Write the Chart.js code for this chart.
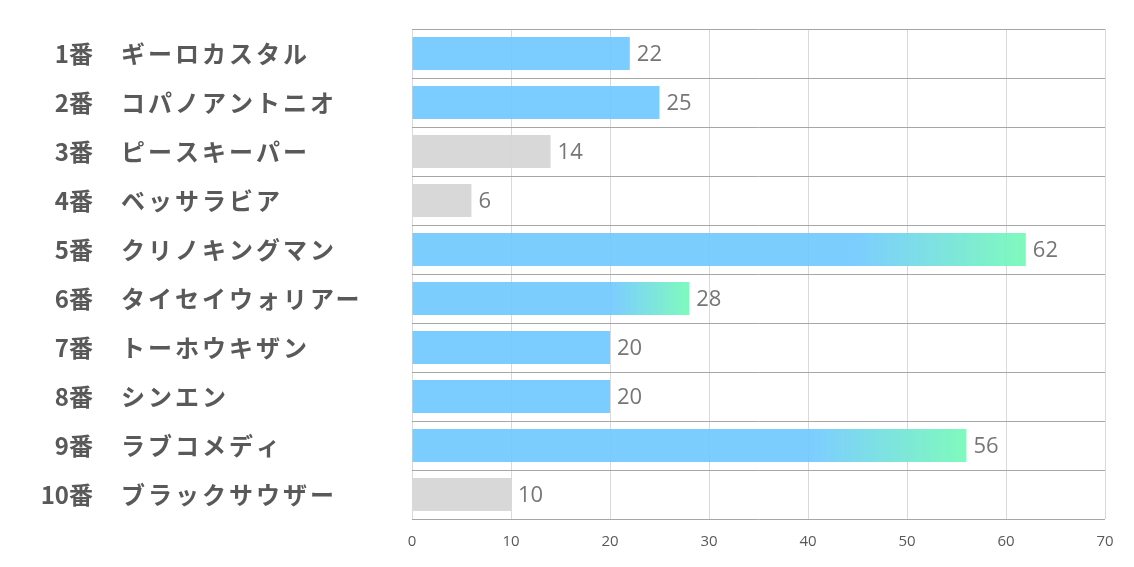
<!DOCTYPE html>
<html>
<head>
<meta charset="utf-8">
<script src="https://cdn.jsdelivr.net/npm/chart.js@4.4.0/dist/chart.umd.min.js"></script>
<style>
  html, body { margin: 0; padding: 0; background: #fff; }
  #wrap { width: 1134px; height: 567px; }
</style>
</head>
<body>
<div id="wrap"><canvas id="chart" width="1134" height="567"></canvas></div>
<script>
/*******************
 * DATA
 ******************/
const horseNumbers = ['1番', '2番', '3番', '4番', '5番', '6番', '7番', '8番', '9番', '10番'];
const horseNames = ['ギーロカスタル', 'コパノアントニオ', 'ピースキーパー', 'ベッサラビア', 'クリノキングマン',
    'タイセイウォリアー', 'トーホウキザン', 'シンエン', 'ラブコメディ', 'ブラックサウザー'];
const scores = [22, 25, 14, 6, 62, 28, 20, 20, 56, 10];
// 'pick' = blue, 'rise' = blue -> green, 'other' = grey
const marks = ['pick', 'pick', 'other', 'other', 'rise', 'rise', 'pick', 'pick', 'rise', 'other'];
const xTicks = [0, 10, 20, 30, 40, 50, 60, 70];

const BLUE = 'rgba(110, 200, 255, 0.9)';
const GREEN = 'rgba(120, 250, 185, 0.95)';
const GREY = 'rgba(214, 214, 214, 0.95)';

/*******************
 * PLUGIN - LEFT LABELS AND VALUE LABELS
 ******************/
const labelPlugin = {
    id: 'horseLabels',
    afterDatasetsDraw(chart) {
        const ctx = chart.ctx;
        const y = chart.scales.y;
        const meta = chart.getDatasetMeta(0);
        ctx.save();
        ctx.textBaseline = 'middle';
        for (let i = 0; i < horseNames.length; i++) {
            const yPos = y.getPixelForValue(i);
            ctx.fillStyle = '#595959';
            ctx.font = 'bold 24px "Noto Sans CJK JP"';
            ctx.letterSpacing = '0px';
            ctx.textAlign = 'right';
            ctx.fillText(horseNumbers[i], 93, yPos);
            ctx.textAlign = 'left';
            ctx.letterSpacing = '3px';
            ctx.fillText(horseNames[i], 121, yPos);

            // value at the end of the bar
            const bar = meta.data[i];
            ctx.letterSpacing = '0px';
            ctx.font = '22px "Open Sans"';
            ctx.fillStyle = '#767676';
            ctx.fillText(String(scores[i]), bar.x + 7, yPos + 1);
        }
        ctx.restore();
    }
};

function barColour(context) {
    const i = context.dataIndex;
    if (marks[i] === 'other') return GREY;
    if (marks[i] === 'pick') return BLUE;
    const chart = context.chart;
    const x = chart.scales.x;
    if (!x) return BLUE;
    const x0 = x.getPixelForValue(0);
    const x1 = x.getPixelForValue(scores[i]);
    const grad = chart.ctx.createLinearGradient(x0, 0, x1, 0);
    grad.addColorStop(0, BLUE);
    grad.addColorStop(0.72, BLUE);
    grad.addColorStop(1, GREEN);
    return grad;
}

/*******************
 * CHART
 ******************/
const ctx = document.getElementById('chart');
new Chart(ctx, {
    type: 'bar',
    data: {
        labels: horseNames,
        datasets: [{
            data: scores,
            backgroundColor: barColour,
            borderWidth: 0,
            barPercentage: 0.67,
            categoryPercentage: 1,
        }]
    },
    options: {
        indexAxis: 'y',
        responsive: false,
        animation: false,
        layout: {
            padding: { left: 412, right: 29, top: 29, bottom: 2 }
        },
        scales: {
            x: {
                min: 0,
                max: 70,
                afterBuildTicks: function(axis) {
                    axis.ticks = xTicks.map(v => ({ value: v }));
                },
                grid: { color: '#d9d9d9', lineWidth: 1, drawTicks: false },
                border: { display: false },
                ticks: {
                    color: '#595959',
                    font: { family: 'Open Sans', size: 15 },
                    padding: 14,
                }
            },
            y: {
                grid: { offset: true, color: '#a6a6a6', lineWidth: 1, drawTicks: false },
                border: { display: false },
                ticks: { display: false }
            }
        },
        plugins: {
            legend: { display: false },
            tooltip: { enabled: false }
        }
    },
    plugins: [labelPlugin]
});
</script>
</body>
</html>
